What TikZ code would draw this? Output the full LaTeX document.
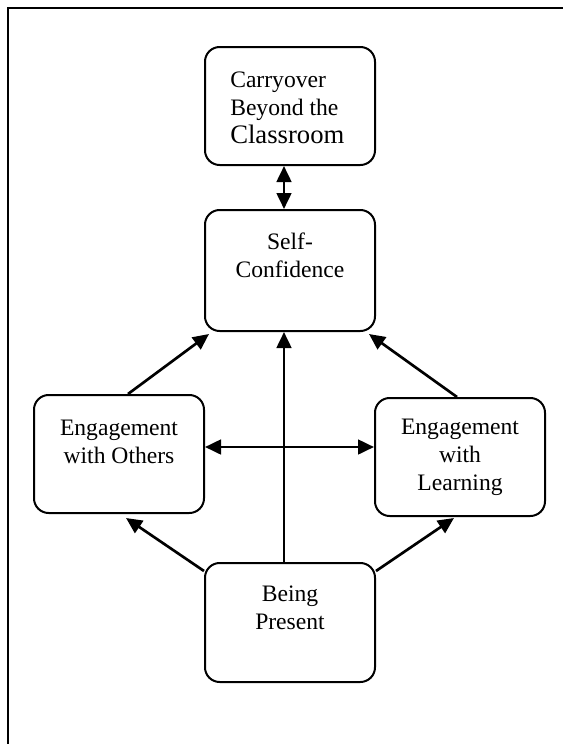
\documentclass[tikz,border=0pt]{standalone}
\usepackage{fontspec}
\setmainfont{Liberation Serif}
\usetikzlibrary{arrows.meta,calc}
\begin{document}
\begin{tikzpicture}[x=0.75pt,y=-0.75pt,
  box/.style={draw,line width=1.5pt,rounded corners=11pt,minimum width=127.5pt,inner sep=0pt},
  lbl/.style={font=\fontsize{17.7}{21}\selectfont,align=center,inner sep=0pt},
  conn/.style={line width=2pt,-{Triangle[length=12pt,width=11pt]}},
  both/.style={line width=2pt,{Triangle[length=12pt,width=11pt]}-{Triangle[length=12pt,width=11pt]}},
  frame/.style={line width=2.2pt}]
\useasboundingbox (0,0) rectangle (563,744);
\draw[frame] (8,744) -- (8,8) -- (563,8);

\node[box,minimum height=88.5pt] (carry) at (290,106) {};
\node[box,minimum height=90.75pt] (self) at (290,270.5) {};
\node[box,minimum height=88.5pt] (others) at (119,454) {};
\node[box,minimum height=88.5pt] (learn) at (460,457) {};
\node[box,minimum height=89.25pt] (present) at (290,622.5) {};

\node[lbl,align=left,anchor=west] (tcarry) at (230,108) {Carryover\\Beyond the\\{\fontsize{20}{23}\selectfont Classroom}};
\node[lbl] (tself) at (290,255) {Self-\\Confidence};
\node[lbl] (tothers) at (119,442) {Engagement\\with Others};
\node[lbl] (tlearn) at (460,457) {Engagement\\with\\Learning};
\node[lbl] (tpresent) at (290,608) {Being\\Present};

\draw[both] ($(carry.south)+(-6,0)$) -- ($(self.north)+(-6,0)$);
\draw[conn] ($(others.north west)+(95,0)$) -- ($(self.south west)+(5,2)$);
\draw[conn] ($(learn.north west)+(83,0)$) -- ($(self.south east)+(-7,2)$);
\draw[conn] ($(present.north)+(-6,0)$) -- ($(self.south)+(-6,0)$);
\draw[both] ($(others.east)+(0,-7)$) -- ($(learn.west)+(0,-10)$);
\draw[conn] ($(present.north west)+(0,9)$) -- ($(others.south west)+(93,4)$);
\draw[conn] ($(present.north east)+(0,9)$) -- ($(learn.south west)+(80,1)$);
\end{tikzpicture}
\end{document}
